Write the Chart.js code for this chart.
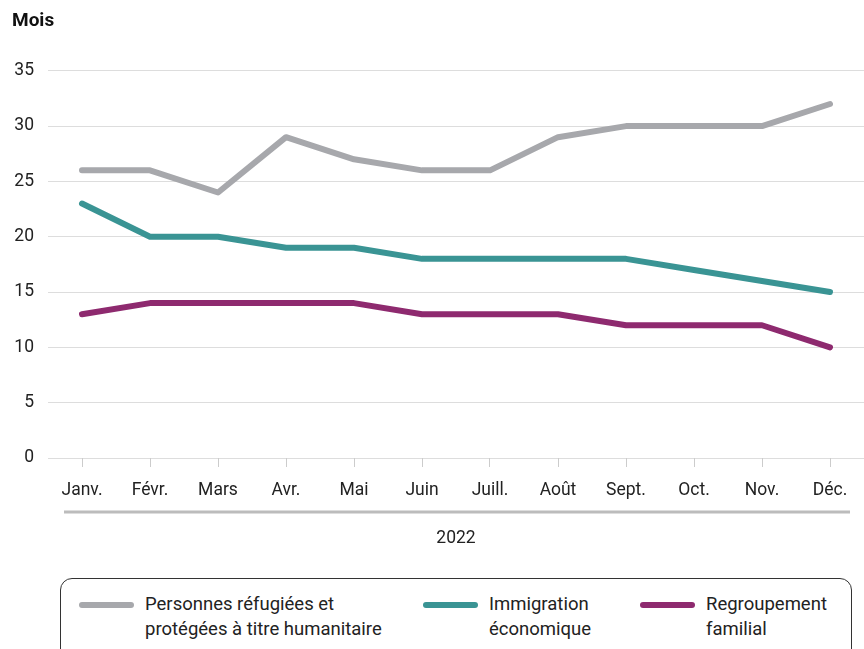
<!DOCTYPE html>
<html lang="fr">
<head>
<meta charset="UTF-8">
<title>Délais de traitement</title>
<style>
  body { margin: 0; background: #fff; font-family: Roboto, "Noto Sans", sans-serif; }
  #wrap { position: relative; width: 864px; height: 649px; overflow: hidden; }
  #legend {
    position: absolute; left: 60px; top: 578px; width: 792px; height: 100px;
    border: 1.5px solid #333; border-radius: 12px; box-sizing: border-box;
    display: flex; padding: 13px 0 0 18px; color: #222; font-size: 18.5px; line-height: 25px;
  }
  .item { display: flex; align-items: flex-start; }
  .swatch { width: 55px; height: 6px; border-radius: 3px; margin: 10px 11px 0 0; flex: none; }
  .txt { white-space: pre-line; }
</style>
</head>
<body>
<div id="wrap">
  <canvas id="myChart" width="864" height="551"></canvas>
  <div id="legend"></div>
</div>
<script src="https://cdn.jsdelivr.net/npm/chart.js"></script>
<script>
  const months = ['Janv.', 'Févr.', 'Mars', 'Avr.', 'Mai', 'Juin', 'Juill.', 'Août', 'Sept.', 'Oct.', 'Nov.', 'Déc.'];
  const refugies = [26, 26, 24, 29, 27, 26, 26, 29, 30, 30, 30, 32];
  const economique = [23, 20, 20, 19, 19, 18, 18, 18, 18, 17, 16, 15];
  const familial = [13, 14, 14, 14, 14, 13, 13, 13, 12, 12, 12, 10];
  const seriesNames = ['Personnes réfugiées et\nprotégées à titre humanitaire', 'Immigration\néconomique', 'Regroupement\nfamilial'];
  const seriesColors = ['#a7a8ac', '#3a9494', '#8e2a6f'];

  const font = 'Roboto';

  // ligne grise au-dessus de "2022"
  const yearLine = {
    id: 'yearLine',
    afterDraw(chart) {
      const {ctx, chartArea} = chart;
      ctx.save();
      ctx.strokeStyle = '#bcbcbc';
      ctx.lineWidth = 3;
      ctx.beginPath();
      ctx.moveTo(chartArea.left + 16, 512);
      ctx.lineTo(chartArea.right - 14, 512);
      ctx.stroke();
      ctx.restore();
    }
  };

  const data = {
    labels: months,
    datasets: [refugies, economique, familial].map((d, i) => ({
      label: seriesNames[i],
      data: d,
      borderColor: seriesColors[i],
      backgroundColor: seriesColors[i],
      borderWidth: 6,
      borderCapStyle: 'round',
      borderJoinStyle: 'round',
      pointRadius: 0,
      tension: 0
    }))
  };

  const config = {
    type: 'line',
    data: data,
    options: {
      responsive: false,
      animation: false,
      layout: { padding: { left: 12, right: 0, top: 6, bottom: 2 } },
      plugins: {
        legend: { display: false },
        tooltip: { enabled: false },
        title: {
          display: true, text: 'Mois', align: 'start', color: '#111',
          font: { family: font, size: 19, weight: 'bold' },
          padding: { top: 4, bottom: 38 }
        }
      },
      scales: {
        y: {
          min: 0, max: 35,
          afterFit(scale) { scale.width = 36; },
          ticks: { stepSize: 5, color: '#222', font: { family: font, size: 17.5 }, padding: 14 },
          grid: { color: '#dddddd', drawTicks: false },
          border: { display: false }
        },
        x: {
          offset: true,
          ticks: { color: '#222', font: { family: font, size: 17.5 }, padding: 13, maxRotation: 0, autoSkip: false },
          grid: { offset: false, drawOnChartArea: false, color: '#cccccc', tickLength: 9 },
          border: { display: false },
          title: { display: true, text: '2022', color: '#222', font: { family: font, size: 17.5 }, padding: { top: 14, bottom: 0 } }
        }
      }
    },
    plugins: [yearLine]
  };

  const chart = new Chart(document.getElementById('myChart'), config);

  const legend = document.getElementById('legend');
  const widths = [344, 217, 200];
  chart.data.datasets.forEach((ds, i) => {
    const item = document.createElement('div');
    item.className = 'item';
    item.style.width = widths[i] + 'px';
    item.innerHTML = '<span class="swatch" style="background:' + ds.borderColor + '"></span><span class="txt"></span>';
    item.querySelector('.txt').textContent = ds.label;
    legend.appendChild(item);
  });
</script>
</body>
</html>
